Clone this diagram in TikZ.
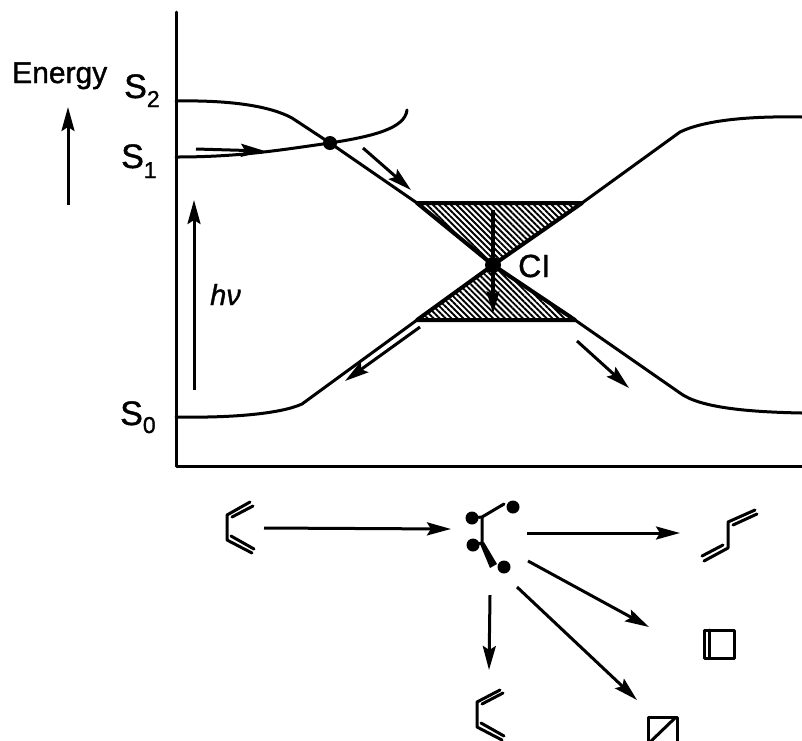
\documentclass[tikz,border=0pt]{standalone}
\usepackage{fontspec}
\setmainfont{Liberation Sans}[FakeBold=1.2]
\usetikzlibrary{arrows.meta,patterns.meta}
\newcommand{\fs}[1]{\fontsize{#1}{#1}\selectfont}
\tikzset{
  x=1pt,y=-1pt,
  curve/.style={line width=3pt,line cap=round,line join=round},
  flow/.style={line width=3pt,-{Stealth[length=24pt,width=13pt,inset=4pt]}},
  bond/.style={line width=3pt,line cap=round,line join=round},
  hatched/.style={pattern={Lines[angle=-45,distance=4.2pt,line width=1.9pt]},pattern color=black},
  atom/.style={circle,fill=black,inner sep=0pt,minimum size=#1},
  lab/.style={inner sep=0pt,anchor=base west,text=black},
}
\begin{document}
\begin{tikzpicture}
\useasboundingbox (0,0) rectangle (802,740);
\clip (0,0) rectangle (802,740);
% crossing points
\coordinate (ci) at (493,265);
\coordinate (tl) at (417,203);
\coordinate (tr) at (582,203);
\coordinate (bl) at (417,320);
\coordinate (br) at (575,320);
\coordinate (orig) at (176,466);
% hourglass
\fill[hatched] (tl) -- (tr) -- (ci) -- cycle;
\fill[hatched] (bl) -- (br) -- (ci) -- cycle;
\draw[line width=4pt,line join=round] (tl) -- (tr) -- (ci) -- cycle;
\draw[line width=4pt,line join=round] (bl) -- (br) -- (ci) -- cycle;
% axes
\draw[curve] (176,12) -- (orig) -- (802,466);
% potential curves
\draw[curve] (176,101) .. controls (230,100) and (270,106) .. (292,118) -- (330,143) -- (tl);
\draw[curve] (176,157) .. controls (240,157) and (280,150) .. (330,143) .. controls (375,136) and (405,128) .. (407,110);
\draw[curve] (176,417) .. controls (230,418) and (280,414) .. (302,404) -- (bl);
\draw[curve] (tr) -- (680,132) .. controls (705,120) and (750,116) .. (802,117);
\draw[curve] (br) -- (680,393) .. controls (700,408) and (750,412) .. (802,413);
% crossing dots
\node[atom=14pt] (ci1) at (330,143) {};
\node[atom=16pt] (cidot) at (ci) {};
% flow arrows
\coordinate (a1) at (196,149); \coordinate (a2) at (265,151);
\coordinate (b1) at (363,148); \coordinate (b2) at (411,190);
\coordinate (c1) at (493,210); \coordinate (c2) at (493,314);
\coordinate (d1) at (420,327); \coordinate (d2) at (345,381);
\coordinate (e1) at (577,341); \coordinate (e2) at (629,388);
\coordinate (hv1) at (194,390); \coordinate (hv2) at (194,200);
\coordinate (en1) at (68,205); \coordinate (en2) at (68,107);
\draw[flow] (a1) -- (a2);
\draw[flow] (b1) -- (b2);
\draw[line width=4.5pt,-{Stealth[length=22pt,width=12pt,inset=2pt]}] (c1) -- (c2);
\draw[flow] (d1) -- (d2);
\draw[flow] (e1) -- (e2);
\draw[flow] (hv1) -- (hv2);
\draw[flow] (en1) -- (en2);
% labels
\node[lab] (lenergy) at (12,83) {\fs{30}Energy};
\node[lab] (ls2) at (124,98) {\fs{34}S\raisebox{-9pt}{\fs{23}2}};
\node[lab] (ls1) at (121,168) {\fs{34}S\raisebox{-10pt}{\fs{23}1}};
\node[lab] (ls0) at (120,425) {\fs{34}S\raisebox{-8pt}{\fs{23}0}};
\node[lab] (lci) at (518,277) {\fs{32}CI};
\node[lab] (lhv) at (210,305) {\fs{29}\itshape hν};
% butadiene, reactant
\draw[bond] (250,502) -- (227,515) -- (227,540) -- (252,553);
\draw[bond] (232,517) -- (253,506);
\draw[bond] (231,536) -- (254,549);
% butadiene, cis product
\draw[bond] (500,690) -- (477,702) -- (477,727) -- (502,740);
\draw[bond] (482,704) -- (503,693);
\draw[bond] (481,723) -- (504,736);
% transoid product
\draw[bond] (704,561) -- (728,548) -- (728,522) -- (755,510);
\draw[bond] (702,556) -- (723,545);
\draw[bond] (733,525) -- (757,514);
% cyclobutene
\draw[bond] (704,630) rectangle (734,658);
\draw[bond] (709,630) -- (709,658);
% bicyclobutane
\draw[bond] (648,717) rectangle (677,750);
\draw[bond] (675,718) -- (648,744);
% intermediate
\node[atom=13pt] (p1) at (513,507) {};
\node[atom=13pt] (p2) at (472,518) {};
\node[atom=13pt] (p3) at (473,545) {};
\node[atom=13pt] (p4) at (504,567) {};
\coordinate (m1) at (482,517);
\coordinate (m2) at (482,543);
\coordinate (m3) at (504,504);
\draw[bond] (p2) -- (m1) -- (m3);
\draw[bond] (m1) -- (m2) -- (p3);
\fill (480,544) -- (484,542) -- (497,564) -- (490,568) -- cycle;
% reaction arrows
\coordinate (r1) at (264,528); \coordinate (r2) at (451,529);
\coordinate (r3) at (527,533); \coordinate (r4) at (680,533);
\coordinate (r5) at (528,561); \coordinate (r6) at (649,627);
\coordinate (r7) at (517,587); \coordinate (r8) at (637,700);
\coordinate (r9) at (490,595); \coordinate (r10) at (489,670);
\foreach \s/\t in {r1/r2,r3/r4,r5/r6,r7/r8,r9/r10}
  \draw[flow] (\s) -- (\t);
\end{tikzpicture}
\end{document}
